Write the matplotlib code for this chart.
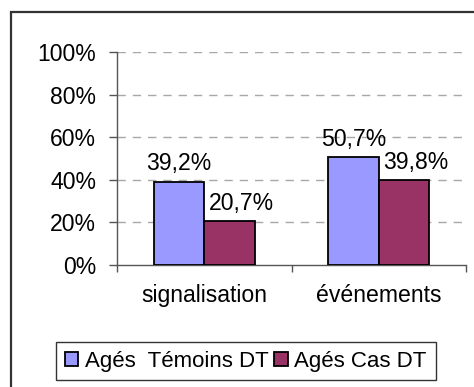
import matplotlib
matplotlib.use("Agg")
import matplotlib.pyplot as plt
from matplotlib.patches import Rectangle
import numpy as np

categories = ["signalisation", "événements"]
series_names = ["Agés  Témoins DT", "Agés Cas DT"]
temoins = [39.2, 50.7]
cas = [20.7, 39.8]
yticks = [0, 20, 40, 60, 80, 100]
ytick_labels = ["0%", "20%", "40%", "60%", "80%", "100%"]

colors = ["#9999FF", "#993366"]

plt.rcParams["font.family"] = ["Liberation Sans", "DejaVu Sans"]
FS = 16.6
LEG_FS = 16.0

W, H = 474, 387
fig = plt.figure(figsize=(W / 100, H / 100), dpi=100)
fig.patch.set_facecolor("white")

# outer chart-area frame
fig.patches.append(Rectangle((10.5 / W, -0.05), 1.2, 1 - 11.5 / H + 0.05,
                             transform=fig.transFigure, fill=False,
                             edgecolor="#333333", linewidth=1.6))

ax = fig.add_axes([117 / W, 1 - 265 / H, (466 - 117) / W, (265 - 52) / H])
ax.set_xlim(0, 2)
ax.set_ylim(0, 100)

x = np.arange(len(categories)) + 0.5
bw = 0.29
b1 = ax.bar(x - bw / 2, temoins, bw, color=colors[0], edgecolor="black",
            linewidth=1.3, label=series_names[0], zorder=3)
b2 = ax.bar(x + bw / 2, cas, bw, color=colors[1], edgecolor="black",
            linewidth=1.3, label=series_names[1], zorder=3)

def fmt(v):
    return f"{v:.1f}".replace(".", ",") + "%"

for bars, vals, dx in ((b1, temoins, 0), (b2, cas, 12)):
    for rect, v in zip(bars, vals):
        ax.annotate(fmt(v), (rect.get_x() + rect.get_width() / 2, v),
                    xytext=(dx * 0.72, 8), textcoords="offset points",
                    ha="center", va="baseline", fontsize=FS, zorder=4)

# grid
for yv in yticks[1:]:
    ax.axhline(yv, color="#a8a8a8", linewidth=1.0, dashes=(6, 5), zorder=1)

ax.set_yticks(yticks)
ax.set_yticklabels(ytick_labels, fontsize=FS)
ax.set_xticks([0, 1, 2])
ax.set_xticklabels([])
ax.set_xticks(x, minor=True)
ax.set_xticklabels(categories, minor=True, fontsize=FS)
ax.tick_params(axis="x", which="minor", length=0, pad=14)
ax.tick_params(axis="x", which="major", length=5, width=1, color="#555555",
               direction="out")
ax.tick_params(axis="y", length=6, width=1, color="#555555", direction="out",
               pad=9)

for s in ("top", "right"):
    ax.spines[s].set_visible(False)
for s in ("left", "bottom"):
    ax.spines[s].set_color("#555555")
    ax.spines[s].set_linewidth(1.0)
ax.set_facecolor("none")

leg = fig.legend(handles=[b1, b2], labels=series_names, loc="center",
                 bbox_to_anchor=(246 / W, 1 - 361 / H), ncol=2,
                 fontsize=LEG_FS, frameon=True, fancybox=False, framealpha=1,
                 edgecolor="#333333", handlelength=0.6, handleheight=0.6,
                 handletextpad=0.3, columnspacing=0.25, borderpad=0.4,
                 borderaxespad=0)
leg.get_frame().set_linewidth(1.0)

fig.savefig("out.png", dpi=100)
